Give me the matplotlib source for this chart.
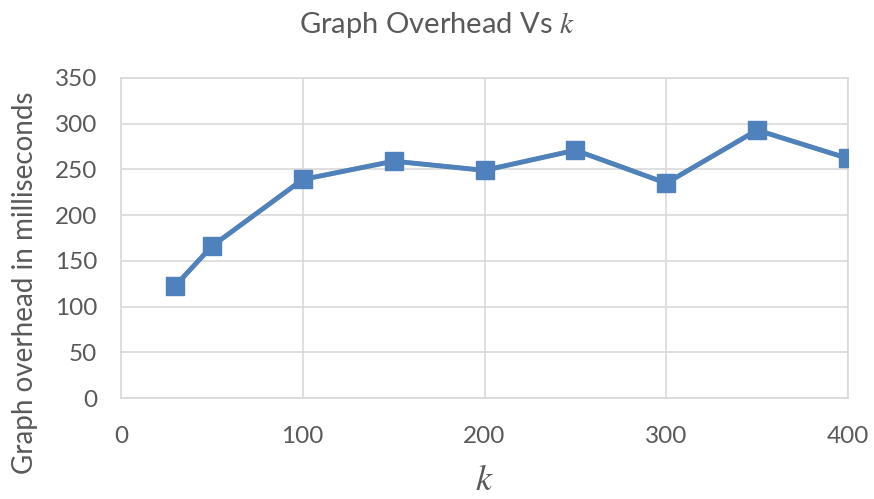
import matplotlib.pyplot as plt

# graph overhead measured for each k
k_values = [30, 50, 100, 150, 200, 250, 300, 350, 400]
overhead_ms = [123, 166, 239, 259, 249, 271, 235, 293, 262]

x_ticks = [0, 100, 200, 300, 400]
y_ticks = [0, 50, 100, 150, 200, 250, 300, 350]

plt.rcParams['font.family'] = ['Lato', 'DejaVu Sans']
plt.rcParams['mathtext.fontset'] = 'stix'

text_grey = '#595959'
grid_grey = '#d9d9d9'
line_blue = '#4f81bd'

fig = plt.figure(figsize=(8.74, 4.99), dpi=100)
ax = fig.add_axes([0.1384, 0.2024, 0.8319, 0.6413])

# green series sits underneath the blue one
ax.plot(k_values, overhead_ms, color='#9bbb59', lw=3.2, marker='^', ms=11, zorder=2)
ax.plot(k_values, overhead_ms, color=line_blue, lw=3.5, marker='s', ms=13,
        markeredgecolor=line_blue, zorder=3)

ax.set_xlim(0, 400)
ax.set_ylim(0, 350)
ax.set_xticks(x_ticks)
ax.set_yticks(y_ticks)
ax.grid(True, color=grid_grey, lw=1.2)
ax.set_axisbelow(True)
for s in ax.spines.values():
    s.set_color(grid_grey)
    s.set_linewidth(1.2)

ax.tick_params(axis='x', length=0, pad=20, labelsize=17.5, labelcolor=text_grey)
ax.tick_params(axis='y', length=0, pad=17, labelsize=17.5, labelcolor=text_grey)

fig.suptitle(r'Graph Overhead Vs $k$', x=0.5, y=0.98, fontsize=21, color=text_grey)
ax.set_xlabel(r'$k$', fontsize=26, color=text_grey, labelpad=12)
fig.text(25 / 874, 1 - 283 / 499, 'Graph overhead in milliseconds', rotation=90,
         ha='center', va='center', fontsize=20, color=text_grey)

fig.savefig('out.png', dpi=100, facecolor='white')
